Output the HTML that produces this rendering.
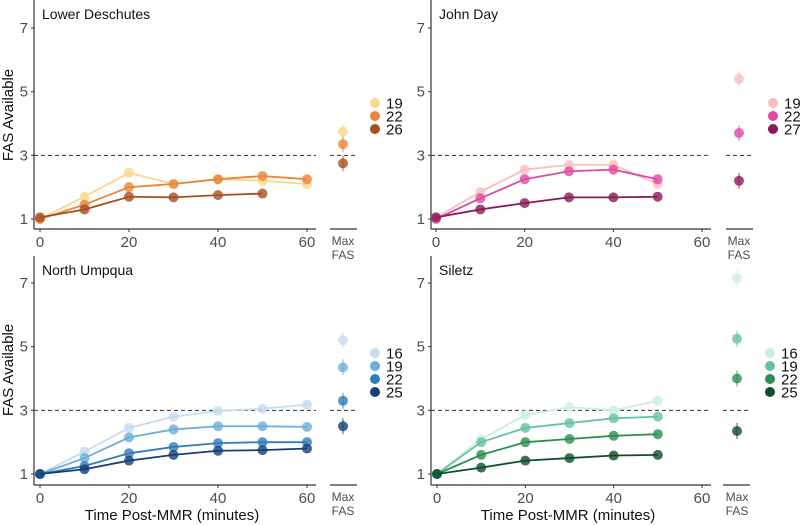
<!DOCTYPE html>
<html><head><meta charset="utf-8"><style>
body{margin:0;background:#fff;font-family:"Liberation Sans",sans-serif}
svg{display:block}
</style></head><body>
<svg id="chart" width="800" height="525" xmlns="http://www.w3.org/2000/svg"></svg>
<script>
const times = [0,10,20,30,40,50,60];
const panelNames = ["Lower Deschutes","John Day","North Umpqua","Siletz"];
const ldTemps = ["19","22","26"];
const ld19 = [1,1.7,2.45,2.1,2.25,2.2,2.1];
const ld22 = [1,1.45,2.0,2.1,2.25,2.35,2.25];
const ld26 = [1.05,1.3,1.7,1.68,1.75,1.8];
const ldMax = [3.75,3.35,2.75];
const jdTemps = ["19","22","27"];
const jd19 = [1.05,1.85,2.55,2.7,2.7,2.1];
const jd22 = [1,1.65,2.25,2.5,2.55,2.25];
const jd27 = [1.05,1.3,1.5,1.68,1.68,1.7];
const jdMax = [5.4,3.7,2.2];
const nuTemps = ["16","19","22","25"];
const nu16 = [1,1.7,2.45,2.8,2.98,3.05,3.18];
const nu19 = [1,1.5,2.15,2.4,2.5,2.5,2.48];
const nu22 = [1,1.25,1.65,1.85,1.97,2.0,2.0];
const nu25 = [1,1.15,1.42,1.6,1.73,1.75,1.8];
const nuMax = [5.2,4.35,3.3,2.5];
const siTemps = ["16","19","22","25"];
const si16 = [1,2.1,2.85,3.1,3.0,3.3];
const si19 = [1,2.0,2.45,2.6,2.75,2.8];
const si22 = [1,1.6,2.0,2.1,2.2,2.25];
const si25 = [1,1.2,1.42,1.5,1.58,1.6];
const siMax = [7.15,5.25,4.0,2.35];
const yTicks = [1,3,5,7];
const xTicks = [0,20,40,60];

const NS="http://www.w3.org/2000/svg";
const svg=document.getElementById('chart');
function mk(tag,attrs,parent){const e=document.createElementNS(NS,tag);for(const k in attrs)e.setAttribute(k,attrs[k]);(parent||svg).appendChild(e);return e;}

const panels=[
 {name:panelNames[0],ax:34,x0:40,x60:307,y1:219,y7:28,axisY:229,maxX:343,mx0:330,mx1:357,legX:375,legY:103,temps:ldTemps,series:[ld19,ld22,ld26],max:ldMax,colors:["#f8d98a","#e8853a","#a64f1f"]},
 {name:panelNames[1],ax:431,x0:436,x60:702,y1:219,y7:28,axisY:229,maxX:739,mx0:726,mx1:753,legX:773,legY:103,temps:jdTemps,series:[jd19,jd22,jd27],max:jdMax,colors:["#f6bfbf","#dd4aa0","#8b1a58"]},
 {name:panelNames[2],ax:34,x0:40,x60:307,y1:474,y7:283,axisY:485,maxX:343,mx0:330,mx1:357,legX:375,legY:353,temps:nuTemps,series:[nu16,nu19,nu22,nu25],max:nuMax,colors:["#c6dbef","#6baed6","#2f7dbb","#173f75"]},
 {name:panelNames[3],ax:431,x0:437,x60:702,y1:474,y7:283,axisY:485,maxX:737,mx0:723,mx1:750,legX:770,legY:353,temps:siTemps,series:[si16,si19,si22,si25],max:siMax,colors:["#ccece6","#66c2a4","#2c8f50","#104e2c"]}
];

panels.forEach((p,pi)=>{
 const g=mk('g',{});
 
 
 const xs=t=>p.x0+(t/60)*(p.x60-p.x0);
 const ys=v=>p.y1+(v-1)*(p.y7-p.y1)/6;
 const top=p.axisY-229;
 const ya=mk('line',{x1:p.ax,y1:top,x2:p.ax,y2:p.axisY,stroke:'#333','stroke-width':1.2},g);
 
 const xa=mk('line',{x1:p.ax,y1:p.axisY,x2:p.x60+9,y2:p.axisY,stroke:'#333','stroke-width':1.2},g);
 
 const ma=mk('line',{x1:p.mx0,y1:p.axisY,x2:p.mx1,y2:p.axisY,stroke:'#333','stroke-width':1.2},g);
 
 yTicks.forEach(v=>{
  mk('line',{x1:p.ax-3,y1:ys(v),x2:p.ax,y2:ys(v),stroke:'#333'},g);
  const t=mk('text',{x:p.ax-6,y:ys(v)+5,'text-anchor':'end','font-size':15,fill:'#4d4d4d'},g);
  t.textContent=v;
  
 });
 xTicks.forEach(v=>{
  mk('line',{x1:xs(v),y1:p.axisY,x2:xs(v),y2:p.axisY+3,stroke:'#333'},g);
  const t=mk('text',{x:xs(v),y:p.axisY+18,'text-anchor':'middle','font-size':15,fill:'#4d4d4d'},g);
  t.textContent=v;
  
 });
 const m1=mk('text',{x:p.maxX,y:p.axisY+16,'text-anchor':'middle','font-size':12,fill:'#4d4d4d'},g);m1.textContent='Max';
 
 const m2=mk('text',{x:p.maxX,y:p.axisY+30,'text-anchor':'middle','font-size':12,fill:'#4d4d4d'},g);m2.textContent='FAS';
 
 const d1=mk('line',{x1:p.ax,y1:ys(3),x2:p.x60+9,y2:ys(3),stroke:'#333','stroke-dasharray':'4,3'},g);
 
 const d2=mk('line',{x1:p.mx0,y1:ys(3),x2:p.mx1,y2:ys(3),stroke:'#333','stroke-dasharray':'4,3'},g);
 
 const ti=mk('text',{x:p.ax+8,y:top+19,'font-size':14,fill:'#111'},g);ti.textContent=p.name;
 
 p.series.forEach((s,si)=>{
  const c=p.colors[si];
  const pts=s.map((v,i)=>xs(times[i])+','+ys(v)).join(' ');
  const pl=mk('polyline',{points:pts,fill:'none',stroke:c,'stroke-width':1.8},g);
  
  s.forEach((v,i)=>{
   const ci=mk('circle',{cx:xs(times[i]),cy:ys(v),r:5,fill:c,'fill-opacity':0.8},g);
   
  });
  const eb=mk('line',{x1:p.maxX,y1:ys(p.max[si])-8,x2:p.maxX,y2:ys(p.max[si])+8,stroke:c,'stroke-width':1.2,'stroke-opacity':0.7},g);
  
  const mc=mk('circle',{cx:p.maxX,cy:ys(p.max[si]),r:5,fill:c,'fill-opacity':0.8},g);
  
  const ly=p.legY+si*13;
  const lm=mk('circle',{cx:p.legX,cy:ly,r:5,fill:c},g);
  
  const lt=mk('text',{x:p.legX+11,y:ly+5.5,'font-size':15,fill:'#111'},g);lt.textContent=p.temps[si];
  
 });
});
[[13,115],[13,370]].forEach(([x,y])=>{
 const t=mk('text',{x:x,y:y,transform:`rotate(-90 ${x} ${y})`,'text-anchor':'middle','font-size':15,fill:'#111'});
 t.textContent='FAS Available';
 
});
[[172],[568]].forEach(([x])=>{
 const t=mk('text',{x:x,y:520,'text-anchor':'middle','font-size':15,fill:'#111'});
 t.textContent='Time Post-MMR (minutes)';
 
});
</script>
</body></html>
